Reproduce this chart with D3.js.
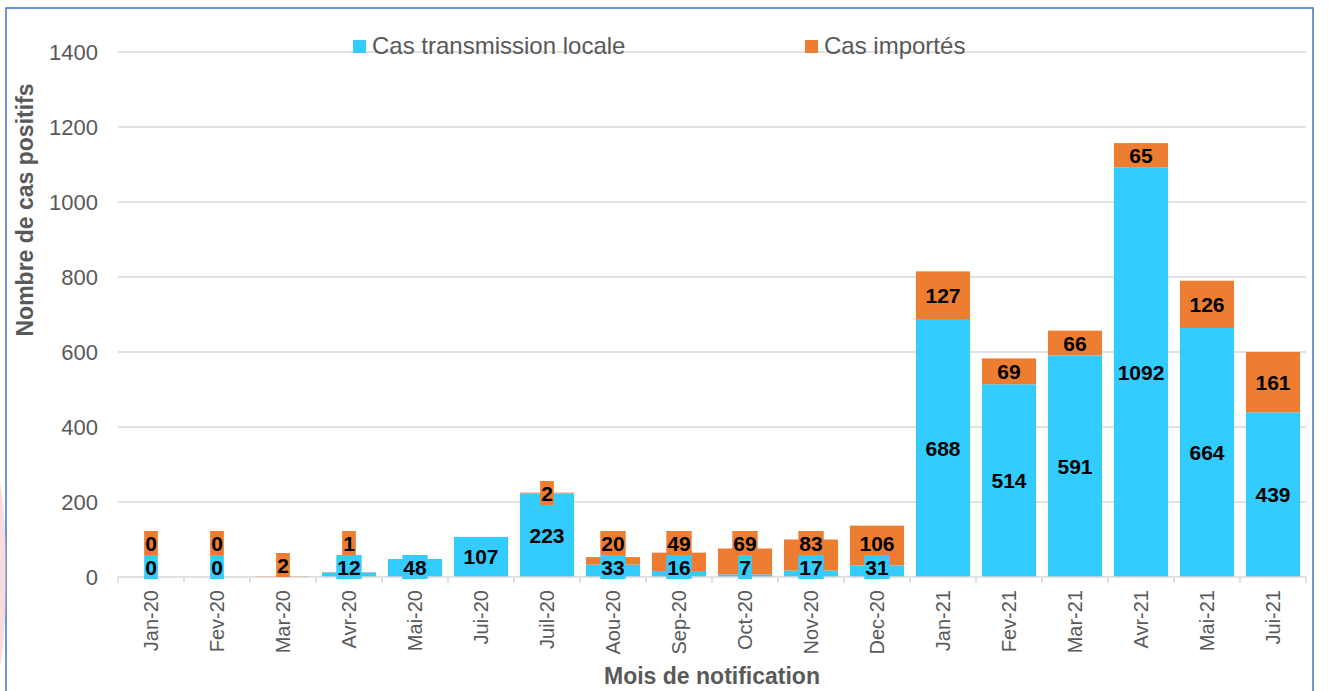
<!DOCTYPE html>
<html>
<head>
<meta charset="utf-8">
<script src="https://cdn.jsdelivr.net/npm/d3@7"></script>
<style>
  body { margin: 0; background: #ffffff; }
  svg { display: block; font-family: "Liberation Sans", Arial, sans-serif; }
</style>
</head>
<body>
<script>
// Data
const MONTHS = ["Jan-20", "Fev-20", "Mar-20", "Avr-20", "Mai-20", "Jui-20", "Juil-20", "Aou-20", "Sep-20",
  "Oct-20", "Nov-20", "Dec-20", "Jan-21", "Fev-21", "Mar-21", "Avr-21", "Mai-21", "Jui-21"];
const LOCAL_CASES = [0, 0, null, 12, 48, 107, 223, 33, 16, 7, 17, 31, 688, 514, 591, 1092, 664, 439];
const IMPORTED_CASES = [0, 0, 2, 1, null, null, 2, 20, 49, 69, 83, 106, 127, 69, 66, 65, 126, 161];
const Y_TICKS = [0, 200, 400, 600, 800, 1000, 1200, 1400];
const SERIES_NAMES = ["Cas transmission locale", "Cas importés"];

/* Dimensions */
const WIDTH = 1330;
const HEIGHT = 691;
const PLOT_LEFT = 118;
const PLOT_RIGHT = 1306;
const PLOT_TOP = 52;
const PLOT_BOTTOM = 577;
const BLUE = "#33ccff";
const ORANGE = "#ed7d31";
const TEXT_GREY = "#595959";
const GRID_GREY = "#d9d9d9";
const LABEL_H = 24;

const svg = d3.select("body").append("svg")
  .attr("width", WIDTH)
  .attr("height", HEIGHT);

// Frame of the slide box
svg.append("rect")
  .attr("x", 6).attr("y", 8)
  .attr("width", 1307).attr("height", 700)
  .attr("fill", "#ffffff")
  .attr("stroke", "#4472c4")
  .attr("stroke-width", 1.5);

// faint pink background blob peeking out at the left edge
svg.append("ellipse")
  .attr("cx", -4).attr("cy", 575)
  .attr("rx", 10).attr("ry", 100)
  .attr("fill", "#f2c4cc")
  .attr("opacity", 0.6);

// Scales
const x = d3.scaleBand()
  .domain(MONTHS)
  .range([PLOT_LEFT, PLOT_RIGHT])
  .paddingInner(0.18)
  .paddingOuter(0.09);
const y = d3.scaleLinear()
  .domain([0, 1400])
  .range([PLOT_BOTTOM, PLOT_TOP]);
const step = x.step();

// Gridlines
svg.append("g")
  .selectAll("line")
  .data(Y_TICKS.filter(d => d > 0))
  .join("line")
  .attr("x1", PLOT_LEFT).attr("x2", PLOT_RIGHT)
  .attr("y1", d => y(d)).attr("y2", d => y(d))
  .attr("stroke", GRID_GREY)
  .attr("stroke-width", 1.3);

// Y axis labels
svg.append("g")
  .selectAll("text")
  .data(Y_TICKS)
  .join("text")
  .attr("x", 98)
  .attr("y", d => y(d))
  .attr("dy", "0.36em")
  .attr("text-anchor", "end")
  .attr("fill", TEXT_GREY)
  .style("font-size", "22px")
  .text(d => d);

// Stacked bars
const rows = MONTHS.map((m, i) => ({
  month: m,
  local: LOCAL_CASES[i],
  imported: IMPORTED_CASES[i]
}));

const bars = svg.append("g");
bars.selectAll("rect.local")
  .data(rows)
  .join("rect")
  .attr("class", "local")
  .attr("x", d => x(d.month))
  .attr("width", x.bandwidth())
  .attr("y", d => y(d.local || 0))
  .attr("height", d => y(0) - y(d.local || 0))
  .attr("fill", BLUE);
bars.selectAll("rect.imported")
  .data(rows)
  .join("rect")
  .attr("class", "imported")
  .attr("x", d => x(d.month))
  .attr("width", x.bandwidth())
  .attr("y", d => y((d.local || 0) + (d.imported || 0)))
  .attr("height", d => y(d.local || 0) - y((d.local || 0) + (d.imported || 0)))
  .attr("fill", ORANGE);

// X axis line and ticks between categories
svg.append("line")
  .attr("x1", PLOT_LEFT).attr("x2", PLOT_RIGHT)
  .attr("y1", PLOT_BOTTOM).attr("y2", PLOT_BOTTOM)
  .attr("stroke", GRID_GREY)
  .attr("stroke-width", 1.5);
svg.append("g")
  .selectAll("line")
  .data(d3.range(MONTHS.length + 1))
  .join("line")
  .attr("x1", i => PLOT_LEFT + i * step)
  .attr("x2", i => PLOT_LEFT + i * step)
  .attr("y1", PLOT_BOTTOM)
  .attr("y2", PLOT_BOTTOM + 6)
  .attr("stroke", GRID_GREY)
  .attr("stroke-width", 1.5);

// X axis labels, rotated
svg.append("g")
  .selectAll("text")
  .data(MONTHS)
  .join("text")
  .attr("transform", d => `translate(${x(d) + x.bandwidth() / 2 + 7},590) rotate(-90)`)
  .attr("text-anchor", "end")
  .attr("fill", TEXT_GREY)
  .style("font-size", "20px")
  .text(d => d);

/*
  Data labels: a filled box in the series colour behind each number.
  Small segments push the labels so that they don't overlap.
*/
const labels = [];
rows.forEach(d => {
  const cx = x(d.month) + x.bandwidth() / 2;
  let blueCy = null;
  if (d.local !== null) {
    blueCy = Math.min(y(d.local / 2), PLOT_BOTTOM - 10);
    labels.push({ cx: cx, cy: blueCy, value: d.local, colour: BLUE });
  }
  if (d.imported !== null) {
    let cy = y((d.local || 0) + d.imported / 2);
    const limit = blueCy !== null ? blueCy - 24 : PLOT_BOTTOM - 12;
    cy = Math.min(cy, limit);
    labels.push({ cx: cx, cy: cy, value: d.imported, colour: ORANGE });
  }
});

const LABEL_G = svg.append("g");
const labelGroups = LABEL_G.selectAll("g")
  .data(labels)
  .join("g");
labelGroups.append("rect")
  .attr("fill", d => d.colour);
labelGroups.append("text")
  .attr("x", d => d.cx)
  .attr("y", d => d.cy)
  .attr("dy", "0.36em")
  .attr("text-anchor", "middle")
  .attr("fill", "#000000")
  .style("font-size", "21px")
  .style("font-weight", "bold")
  .text(d => d.value);
// size the boxes to the text
labelGroups.each(function(d) {
  const g = d3.select(this);
  const w = g.select("text").node().getComputedTextLength() + 2;
  g.select("rect")
    .attr("x", d.cx - w / 2)
    .attr("y", d.cy - LABEL_H / 2)
    .attr("width", w)
    .attr("height", LABEL_H);
});

// Axis titles
svg.append("text")
  .attr("transform", `translate(33,${84 + 126}) rotate(-90)`)
  .attr("text-anchor", "middle")
  .attr("fill", TEXT_GREY)
  .style("font-size", "23px")
  .style("font-weight", "bold")
  .text("Nombre de cas positifs");
svg.append("text")
  .attr("x", (PLOT_LEFT + PLOT_RIGHT) / 2)
  .attr("y", 684)
  .attr("text-anchor", "middle")
  .attr("fill", TEXT_GREY)
  .style("font-size", "23px")
  .style("font-weight", "bold")
  .text("Mois de notification");

// Legend
const LEGEND_X = [353, 805];
const legend = svg.append("g")
  .selectAll("g")
  .data(SERIES_NAMES)
  .join("g")
  .attr("transform", (d, i) => `translate(${LEGEND_X[i]},40)`);
legend.append("rect")
  .attr("width", 13).attr("height", 13)
  .attr("fill", (d, i) => i === 0 ? BLUE : ORANGE);
legend.append("text")
  .attr("x", 19)
  .attr("y", 14)
  .attr("fill", TEXT_GREY)
  .style("font-size", "24px")
  .text(d => d);
</script>
</body>
</html>
